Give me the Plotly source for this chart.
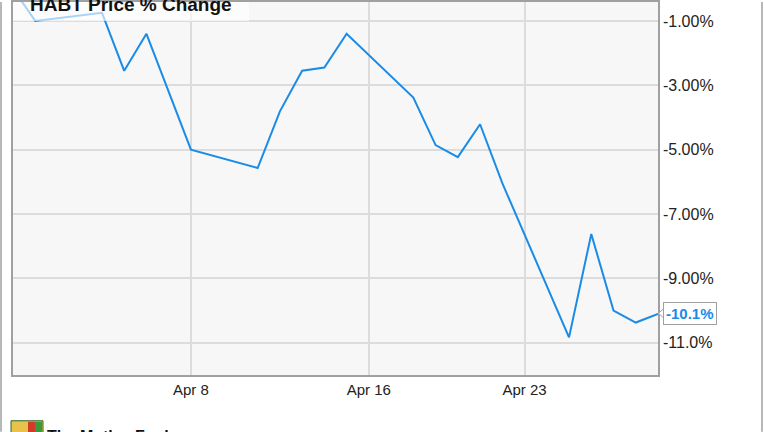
import plotly.graph_objects as go

# ---- data ----
dates = ["2022-03-31", "2022-04-01", "2022-04-04", "2022-04-05", "2022-04-06",
         "2022-04-08", "2022-04-11", "2022-04-12", "2022-04-13", "2022-04-14",
         "2022-04-15", "2022-04-18", "2022-04-19", "2022-04-20", "2022-04-21",
         "2022-04-22", "2022-04-25", "2022-04-26", "2022-04-27", "2022-04-28",
         "2022-04-29"]
pct_change = [0.0, -1.0, -0.75, -2.55, -1.40,
              -5.0, -5.57, -3.81, -2.55, -2.45,
              -1.40, -3.38, -4.86, -5.23, -4.21,
              -6.04, -10.83, -7.62, -10.0, -10.37,
              -10.1]
x_tick_vals = ["2022-04-08", "2022-04-16", "2022-04-23"]
x_tick_text = ["Apr 8", "Apr 16", "Apr 23"]
y_tick_vals = [-1, -3, -5, -7, -9, -11]
y_tick_text = ["-1.00%", "-3.00%", "-5.00%", "-7.00%", "-9.00%", "-11.0%"]
series_name = "HABT Price % Change"
last_label = "-10.1%"

LINE = "#1a8be6"
W, H = 764, 432
L, R, T, B = 13, 106, 0, 57
PW, PH = W - L - R, H - T - B


def px_x(px):
    return (px - L) / PW


def px_y(py):
    return (H - B - py) / PH


fig = go.Figure()
fig.add_trace(go.Scatter(x=dates, y=pct_change, mode="lines",
                         line=dict(color=LINE, width=2), name=series_name,
                         showlegend=False, hoverinfo="skip"))

fig.update_layout(
    width=W, height=H,
    margin=dict(l=L, r=R, t=T, b=B, pad=0),
    paper_bgcolor="white", plot_bgcolor="#f7f7f7",
    font=dict(family="Liberation Sans, Arial, sans-serif", color="#333", size=15),
    xaxis=dict(type="date", range=["2022-03-31", "2022-04-29"],
               tickvals=x_tick_vals, ticktext=x_tick_text,
               showgrid=True, gridcolor="#dcdcdc", gridwidth=1.5,
               showline=True, linecolor="#a0a0a0", linewidth=1.5, mirror=True,
               ticks="", zeroline=False, tickfont=dict(size=15, color="#222")),
    yaxis=dict(range=[-12.0, -0.413], side="right",
               tickvals=y_tick_vals, ticktext=y_tick_text,
               showgrid=True, gridcolor="#dcdcdc", gridwidth=1.5,
               showline=True, linecolor="#a0a0a0", linewidth=1.5, mirror=True,
               ticks="", zeroline=False, tickfont=dict(size=16, color="#222")),
    shapes=[
        dict(type="rect", xref="paper", yref="paper", x0=0, x1=px_x(249),
             y0=px_y(19), y1=1, fillcolor="rgba(255,255,255,0.62)",
             line=dict(width=0), layer="above"),
        dict(type="line", xref="paper", yref="paper", x0=px_x(1), x1=px_x(1),
             y0=px_y(0), y1=px_y(432), line=dict(color="#a0a0a0", width=1.5)),
        dict(type="line", xref="paper", yref="paper", x0=px_x(762), x1=px_x(762),
             y0=px_y(0), y1=px_y(432), line=dict(color="#a0a0a0", width=1.5)),
        # small Motley Fool logo
        dict(type="rect", xref="paper", yref="paper", x0=px_x(11), x1=px_x(43),
             y0=px_y(436), y1=px_y(421), fillcolor="#e8c24a",
             line=dict(color="#2a6a2a", width=1)),
        dict(type="rect", xref="paper", yref="paper", x0=px_x(28), x1=px_x(35),
             y0=px_y(436), y1=px_y(422), fillcolor="#d23a2a", line=dict(width=0)),
        dict(type="rect", xref="paper", yref="paper", x0=px_x(35), x1=px_x(42),
             y0=px_y(436), y1=px_y(422), fillcolor="#3a9a3a", line=dict(width=0)),
        # callout pointer
        dict(type="path", xref="paper", yref="paper",
             path="M {} {} L {} {} L {} {}".format(px_x(664), px_y(308), px_x(658.5), px_y(313),
                                                   px_x(664), px_y(318)),
             fillcolor="white", line=dict(color="#a0a0a0", width=1), layer="above"),
    ],
    annotations=[
        dict(xref="paper", yref="paper", x=px_x(28), y=px_y(3),
             xanchor="left", yanchor="middle", showarrow=False,
             text="<b>" + series_name + "</b>",
             font=dict(size=19, color="#111")),
        dict(xref="x", yref="y", x=dates[-1], y=pct_change[-1],
             xanchor="left", yanchor="middle", xshift=5, showarrow=False,
             text="<b>" + last_label + "</b>",
             font=dict(size=15, color=LINE), bgcolor="white",
             bordercolor="#a0a0a0", borderwidth=1, borderpad=2),
        dict(xref="paper", yref="paper", x=px_x(45), y=px_y(437),
             xanchor="left", yanchor="middle", showarrow=False,
             text="<b>The Motley Fool</b>", font=dict(size=16, color="#111")),
        dict(xref="paper", yref="paper", x=px_x(615), y=px_y(442),
             xanchor="left", yanchor="middle", showarrow=False,
             text="<b>YCHARTS</b>", font=dict(size=26, color="#1a8be6")),
    ],
)

fig.write_html("out.html", config={"displayModeBar": False},
               post_script="document.body.style.margin='0';document.body.style.overflow='hidden';")
